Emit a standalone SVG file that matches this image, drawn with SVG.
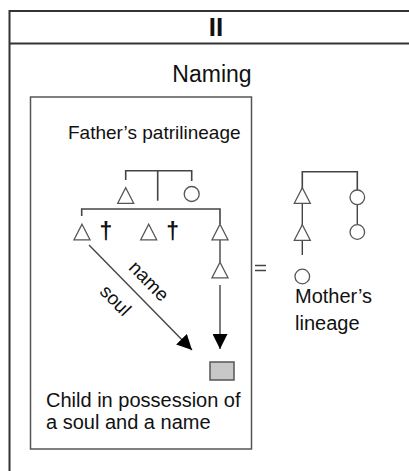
<svg xmlns="http://www.w3.org/2000/svg" width="409" height="471" viewBox="0 0 409 471">
<style>
text{font-family:"Liberation Sans",Arial,sans-serif;fill:#111}
.frame{fill:none;stroke:#333;stroke-width:2}
.box{fill:#fff;stroke:#555;stroke-width:1.5}
.sym{fill:#fff;stroke:#555;stroke-width:1.3}
.ln{fill:none;stroke:#444;stroke-width:1.4}
.br{fill:none;stroke:#444;stroke-width:1.6}
.lbl{font-size:20px}
.dag{font-size:23px;font-weight:bold}
</style>
<defs>
<path id="tri" d="M0,-7.8 L8,7.8 L-8,7.8 Z"/>
<marker id="ah" viewBox="0 0 10 10" refX="10" refY="5" markerWidth="15" markerHeight="15" markerUnits="userSpaceOnUse" orient="auto">
<path d="M0,0 L10,5 L0,10 Z" fill="#000"/>
</marker>
</defs>
<g id="frame">
<path class="frame" d="M9.5,471 V11 H409 M9.5,43.5 H409"/>
<text x="216" y="36" font-size="26" font-weight="bold" text-anchor="middle">II</text>
<text x="212" y="81.5" font-size="23" text-anchor="middle">Naming</text>
</g>
<g id="father-box">
<rect class="box" x="30.5" y="97" width="221" height="352"/>
<text class="lbl" x="68" y="139" style="font-size:19px">Father’s patrilineage</text>
</g>
<g id="connectors">
<path class="br" d="M125.7,180 V170.7 H191.7 V181 M157.7,170.7 V200.7"/>
<path class="br" d="M81.7,216 V209 H220 V224"/>
<path class="ln" d="M220,240 V262"/>
<path class="ln" d="M89,245 L192,350" marker-end="url(#ah)"/>
<path class="ln" d="M220,285 V349" marker-end="url(#ah)"/>
<path class="br" d="M302.3,188 V171.7 H357.3 V190"/>
<path class="ln" d="M302.3,203 V225 M302.3,240 V255 M357.3,204.5 V224"/>
<path class="ln" style="stroke-width:1.6" d="M255,265.5 H266 M255,270.5 H266"/>
</g>
<g id="ff"><use href="#tri" class="sym" x="125.7" y="195.5"/></g>
<g id="fm"><circle class="sym" cx="191.7" cy="194" r="7.5"/></g>
<g id="c1"><use href="#tri" class="sym" x="82" y="232"/><text class="dag" x="106" y="239" text-anchor="middle">†</text></g>
<g id="c2"><use href="#tri" class="sym" x="148.7" y="232"/><text class="dag" x="172.7" y="239" text-anchor="middle">†</text></g>
<g id="c3"><use href="#tri" class="sym" x="220" y="232"/></g>
<g id="c3son"><use href="#tri" class="sym" x="220" y="270"/></g>
<g id="child">
<rect x="210" y="362" width="24" height="18" fill="#c8c8c8" stroke="#555" stroke-width="1.5"/>
<text class="lbl" x="46" y="407">Child in possession of</text>
<text class="lbl" x="46" y="429">a soul and a name</text>
</g>
<g id="labels">
<text class="lbl" style="font-size:19px" text-anchor="middle" transform="translate(148,282) rotate(45.5)" y="5">name</text>
<text class="lbl" style="font-size:19px" text-anchor="middle" transform="translate(116,300) rotate(45.5)" y="7">soul</text>
</g>
<g id="mother-lineage">
<use href="#tri" class="sym" x="302.3" y="195.5"/>
<use href="#tri" class="sym" x="302.3" y="232.5"/>
<circle class="sym" cx="302.3" cy="276.5" r="7.3"/>
<circle class="sym" cx="357.3" cy="197.3" r="7.3"/>
<circle class="sym" cx="357.3" cy="232" r="7.3"/>
<text class="lbl" x="295" y="303">Mother’s</text>
<text class="lbl" x="295" y="330">lineage</text>
</g>
</svg>
